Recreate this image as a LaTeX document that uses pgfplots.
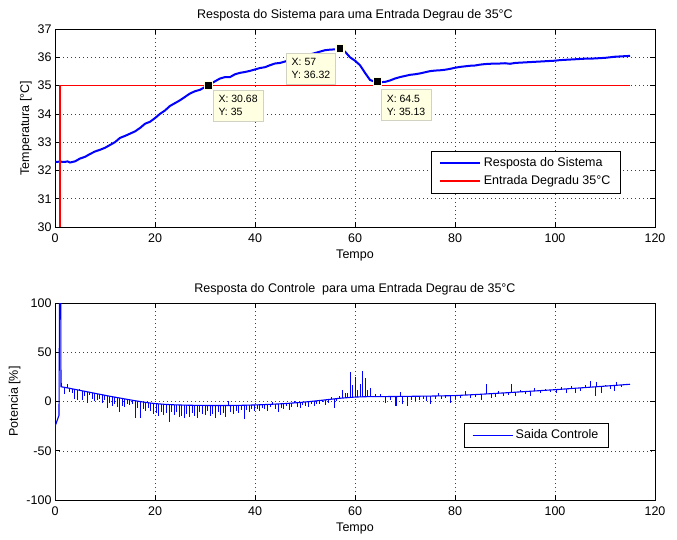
\documentclass[border=0pt]{standalone}
\usepackage{fontspec}
\setmainfont{Liberation Sans}
\usepackage{pgfplots}
\pgfplotsset{compat=1.18}
\definecolor{mblue}{RGB}{0,0,255}
\definecolor{mred}{RGB}{255,0,0}
\definecolor{tipfill}{RGB}{255,255,225}
\definecolor{tipdraw}{RGB}{210,210,195}
\newcommand{\mfont}{\fontsize{12.5}{15}\selectfont}
\tikzset{
  tipbox/.style={draw=tipdraw, fill=tipfill, line width=0.6pt, align=left,
    font=\fontsize{10.5}{12.5}\selectfont, inner xsep=5.5pt, inner ysep=5.5pt},
}
\pgfplotsset{
  mstyle/.style={
    scale only axis, width=600pt,
    xmin=0, xmax=120, xtick={0,20,...,120},
    axis line style={line width=0.7pt},
    tick align=inside, tick pos=both,
    major tick length=5pt,
    every tick/.style={black, line width=0.6pt},
    grid=major,
    major grid style={black!75, line width=0.5pt, dash pattern=on 0.8pt off 3.2pt},
    /pgf/number format/assume math mode=true,
    tick label style={font=\mfont},
    xticklabel style={anchor=base, yshift=-15pt},
    title style={at={(axis description cs:0.5,1)}, anchor=base, yshift=4.5pt, font=\mfont},
    xlabel style={at={(axis description cs:0.5,0)}, anchor=base, yshift=-31pt, font=\mfont},
    legend style={draw=black, fill=white, font=\mfont,
      inner xsep=7.7pt, inner ysep=4.5pt, row sep=3pt,
      nodes={inner xsep=2.5pt, inner ysep=1.5pt, text height=9pt, text depth=3pt}},
    legend cell align=left,
    legend image code/.code={\draw[##1] (0pt,0pt) -- (40pt,0pt);},
  },
}
\begin{document}
\begin{tikzpicture}
\useasboundingbox (0,0) rectangle (677pt,539pt);
% ---------------- top axis ----------------
\begin{axis}[mstyle,
  at={(55pt,312pt)}, anchor=south west, height=198pt,
  ymin=30, ymax=37, ytick={30,31,...,37},
  title={Resposta do Sistema para uma Entrada Degrau de 35°C},
  xlabel={Tempo}, ylabel={Temperatura [°C]},
  ylabel style={at={(axis description cs:-0.0433,0.5)}, anchor=base, font=\mfont},
  legend style={at={(rel axis cs:0.943,0.384)}, anchor=north east},
]
\addplot[mblue, line width=2pt] coordinates {
(0,32.30) (1,32.31) (2,32.30) (2.5,32.32) (3,32.28) (4,32.32) (5,32.42) (6,32.48)
(7,32.58) (8,32.67) (9,32.73) (10,32.80) (11,32.90) (12,33.00) (13,33.15) (14,33.22)
(15,33.30) (16,33.38) (17,33.50) (18,33.65) (19,33.72) (20,33.85) (21,34.00) (22,34.12)
(23,34.28) (24,34.38) (25,34.48) (26,34.60) (27,34.72) (28,34.80) (29,34.85) (30,34.95)
(30.68,35.00) (31,35.05) (32,35.15) (33,35.25) (34,35.30) (35,35.30) (36,35.40) (37,35.45)
(38,35.48) (39,35.52) (40,35.57) (41,35.62) (42,35.65) (43,35.72) (44,35.78) (45,35.80)
(46,35.85) (47,35.90) (48,35.95) (49,36.00) (50,36.05) (51,36.10) (52,36.15) (53,36.20)
(54,36.25) (55,36.27) (56,36.28) (57,36.32) (58,36.20) (59,36.00) (60,35.88) (61,35.72)
(62,35.45) (63,35.20) (64,35.13) (64.5,35.13) (65,35.12) (66,35.13) (67,35.18) (68,35.25)
(69,35.30) (70,35.34) (71,35.38) (72,35.40) (73,35.43) (74,35.47) (75,35.51) (76,35.53)
(77,35.54) (78,35.56) (79,35.59) (80,35.63) (81,35.66) (82,35.68) (83,35.70) (84,35.71)
(85,35.74) (86,35.76) (87,35.77) (88,35.78) (89,35.78) (90,35.79) (91,35.77) (92,35.80)
(93,35.81) (94,35.82) (95,35.83) (96,35.84) (97,35.85) (98,35.86) (99,35.87) (100,35.88)
(101,35.90) (102,35.91) (103,35.92) (104,35.93) (105,35.94) (106,35.95) (107,35.95) (108,35.96)
(109,35.97) (110,35.98) (111,36.00) (112,36.02) (113,36.03) (114,36.04) (115,36.05)
};
\addlegendentry{Resposta do Sistema}
\addplot[mred, line width=1.5pt] coordinates {(1,30) (1,35) (115,35)};
\addlegendentry{Entrada Degradu 35°C}
\addplot[mred, line width=1.5pt, forget plot] coordinates {(1,35.01) (115,35.01)};
\addplot[only marks, mark=square*, mark size=4pt,
  mark options={fill=black, draw=tipfill, line width=1.2pt}, forget plot]
  coordinates {(30.68,35) (57,36.32) (64.5,35.13)};
\node[tipbox, anchor=north west] at ([shift={(4.3pt,-4pt)}]axis cs:30.68,35) {X: 30.68\\Y: 35};
\node[tipbox, anchor=north east] at ([shift={(-4pt,-4.5pt)}]axis cs:57,36.32) {X: 57\\Y: 36.32};
\node[tipbox, anchor=north west] at ([shift={(3.5pt,-7.5pt)}]axis cs:64.5,35.13) {X: 64.5\\Y: 35.13};
\end{axis}
% ---------------- bottom axis ----------------
\begin{axis}[mstyle,
  at={(55pt,39pt)}, anchor=south west, height=197pt,
  ymin=-100, ymax=100, ytick={-100,-50,0,50,100},
  title={Resposta do Controle~~para uma Entrada Degrau de 35°C},
  xlabel={Tempo}, ylabel={Potencia [\%]},
  ylabel style={at={(axis description cs:-0.0617,0.5)}, anchor=base, font=\mfont},
  legend style={at={(rel axis cs:0.923,0.391)}, anchor=north east},
]
\addplot[mblue, line width=1.1pt] coordinates {
(0,-100) (0.03,-25) (0.8,-14) (0.9,100) (1.15,100) (1.2,15)
(2,14.3) (3,13.3) (4,12.3) (5,11.3) (6,10.3) (7,9.3) (8,8.3) (9,7.3) (10,6.3)
(11,5.3) (12,4.4) (13,3.5) (14,2.6) (15,1.7) (16,0.8) (17,0) (18,-0.8) (19,-1.5)
(20,-2.1) (22,-2.9) (24,-3.4) (26,-3.7) (28,-3.9) (30,-4) (34,-4.1) (37,-3.9)
(40,-3.5) (43,-2.9) (46,-2.1) (49,-1.0) (52,0.5) (55,2.2) (57,3.3) (60,4.5)
(63,5) (66,5) (70,5.2) (75,5.5) (80,6) (85,7.3) (90,8.8) (95,10.4) (100,12)
(105,13.8) (110,15.6) (115,17.5)
};
\addlegendentry{Saida Controle}
\addplot[mblue, only marks, mark=*, mark size=0pt,
  mark options={draw opacity=0, fill opacity=0}, forget plot,
  error bars/.cd, y dir=both, y explicit, error mark=none,
  error bar style={draw=mblue, line width=0.9pt}]
  table[x=x, y=b, y error plus=up, y error minus=dn] {
x b up dn
1.3 14.9 4.1 0
1.9 14.4 0 6.9
2.4 13.9 4.1 0
2.9 13.4 0 3.9
3.4 12.9 0 3.9
3.9 12.4 0 9.9
4.4 11.9 0 9.9
4.9 11.4 1.6 0
5.4 10.9 0 8.9
5.9 10.4 0 4.9
6.4 9.9 0 11.9
6.9 9.4 0 2.9
7.4 8.9 0 5.9
7.9 8.4 0 7.9
8.4 7.9 0 5.9
8.9 7.4 0 4.9
9.4 6.9 0 8.9
9.9 6.4 0 4.9
10.4 5.9 0 12.9
10.9 5.4 0 6.9
11.4 4.9 0 9.9
11.9 4.4 0 6.9
12.4 4.0 0 10
12.9 3.6 0 14.1
13.4 3.1 0 8.1
13.9 2.7 0 8.7
14.4 2.2 0 5.2
14.9 1.8 0 5.8
15.4 1.3 0 4.3
16.0 0.8 0 17.3
16.5 0.4 0 6.9
17.1 -0.1 0 16.4
17.6 -0.5 0 7
18.1 -0.9 0 9.1
18.6 -1.2 0 5.8
19.1 -1.6 0 7.9
19.7 -1.9 0 11.1
20.2 -2.2 0 9.8
20.7 -2.4 0 12.6
21.2 -2.6 0 7.9
21.7 -2.8 0 11.2
22.2 -3.0 0 9
22.8 -3.1 0 17.9
23.3 -3.2 0 7.8
23.8 -3.4 0 10.1
24.3 -3.4 0 7.1
24.8 -3.5 0 12
25.3 -3.6 0 10.9
25.8 -3.7 0 12.8
26.3 -3.7 0 8.8
26.9 -3.8 0 12.2
27.4 -3.8 0 7.7
27.9 -3.9 0 11.1
28.4 -3.9 0 13.1
28.9 -3.9 0 7.1
29.4 -4.0 0 9
30.0 -4.0 0 10
30.5 -4.0 0 6
31.0 -4.0 0 11
31.5 -4.0 0 9
32.0 -4.0 0 13
32.6 -4.1 0 6.9
33.1 -4.1 0 9.9
33.6 -4.1 0 7.9
34.1 -4.1 0 11.9
34.6 -4.0 5 0
35.1 -4.0 0 7
35.6 -4.0 0 9
36.2 -3.9 0 6.1
36.7 -3.9 0 8.1
37.2 -3.8 0 5.2
37.8 -3.8 0 14.2
38.3 -3.7 0 5.3
38.8 -3.7 0 7.3
39.3 -3.6 0 4.4
39.8 -3.5 0 6.5
40.4 -3.4 0 4.6
40.9 -3.3 0 6.2
41.4 -3.2 0 3.3
41.9 -3.1 0 4.9
42.5 -3.0 0 7
43.0 -2.9 0 3.1
43.5 -2.8 2.3 0
44.1 -2.6 0 4.9
44.6 -2.5 0 8
45.2 -2.4 0 4.1
45.7 -2.2 0 5.8
46.3 -2.0 0 3
46.8 -1.9 0 7.1
47.3 -1.7 0 3.8
47.9 -1.4 1.9 0
48.4 -1.2 0 4.8
49.0 -1.0 0 6
49.5 -0.7 0 2.8
50.1 -0.4 0 4.1
50.6 -0.2 0 5.8
51.2 0.1 0 3.1
51.8 0.4 0 4.9
52.3 0.7 0 3.2
52.9 1.0 0 4
53.5 1.4 0 1.9
54.0 1.6 0 5.1
54.6 2.0 0 4
55.2 2.3 2.2 0
55.8 2.7 0 9.7
56.3 3.0 0 2
56.9 3.3 2.2 0
57.5 3.6 8.4 0
58.0 3.9 4.6 0
58.5 4.1 4.9 0
59.0 4.3 25.7 0
59.5 4.4 12.6 0
60.0 4.5 20.5 0
60.5 4.6 7.4 0
61.0 4.7 12.8 0
61.5 4.8 26.2 0
62.0 4.9 19.1 0
62.5 4.9 7.1 0
63.0 5.0 8.5 0
64.0 5.0 3 0
65.0 5.0 3 0
66.0 5.0 0 7
67.0 5.0 0 3
68.0 5.1 0 10.1
68.3 5.1 0 10.1
69.0 5.1 4.9 0
69.5 5.2 0 8.2
70.5 5.2 0 10.2
71.3 5.3 0 3.3
72.0 5.3 0 4.3
72.8 5.4 0 3.4
73.7 5.4 0 2.4
74.3 5.5 0 4.5
75.0 5.5 0 8.5
76.0 5.6 0 2.6
76.7 5.6 3.4 0
77.3 5.7 0 2.7
78.0 5.8 0 1.8
79.0 5.9 0 7.9
80.0 6.0 0 3
81.0 6.3 0 2.3
82.0 6.5 4 0
83.0 6.8 0 2.8
84.0 7.0 0 2
85.3 7.4 0 5.4
86.3 7.7 9.8 0
87.2 8.0 0 4
88.0 8.2 0 3.2
88.7 8.4 2.6 0
89.7 8.7 0 2.7
90.7 9.0 0 2
91.3 9.2 8.8 0
92.0 9.4 0 3.4
93.0 9.8 2.2 0
94.0 10.1 0 2.1
95.0 10.4 0 4.4
95.9 10.7 2.8 0
97.0 11.0 0 2
98.0 11.4 1.1 0
99.0 11.7 0 1.7
100.3 12.1 0 3.6
101.3 12.5 2 0
102.3 12.8 0 3.8
103.2 13.2 2.3 0
104.0 13.4 0 4.9
105.0 13.8 0 2.8
106.0 14.2 2.3 0
107.0 14.5 6 0
108.0 14.9 0 8.9
108.3 15.0 5 0
109.3 15.3 0 6.8
110.0 15.6 0.9 0
111.0 16.0 0 3
111.9 16.3 0 5.3
112.3 16.5 3.5 0
113.3 16.8 0 1.8
114.0 17.1 0.9 0
};
\end{axis}
\end{tikzpicture}
\end{document}
